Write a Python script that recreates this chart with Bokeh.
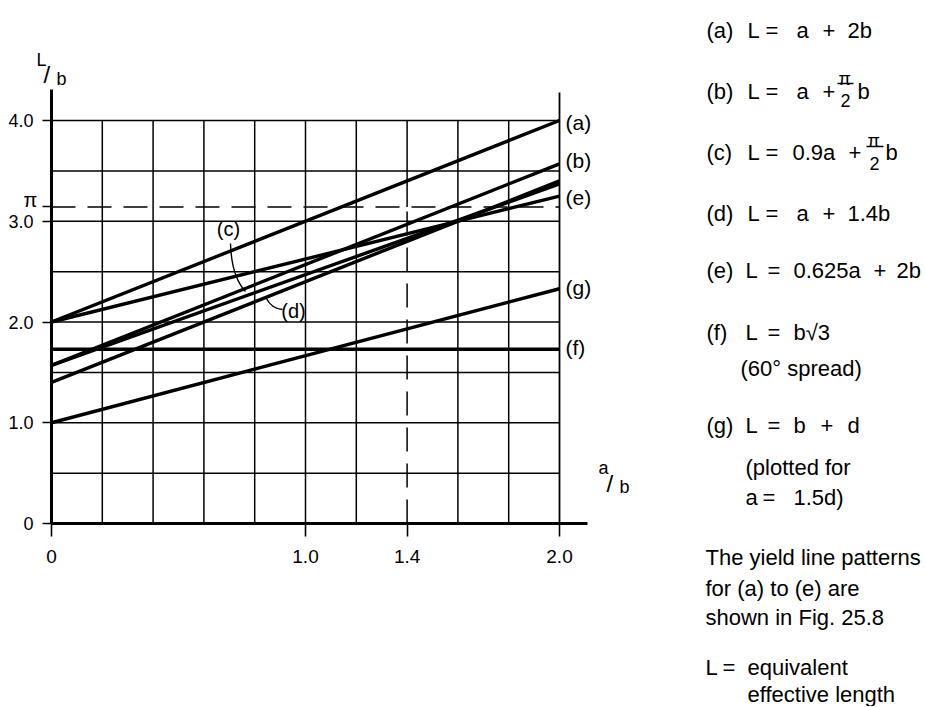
import math
from bokeh.plotting import figure
from bokeh.models import Range1d, FixedTicker, Label
from bokeh.embed import file_html
from bokeh.resources import INLINE

# ---------------- data ----------------
x_ends = [0.0, 2.0]                 # a/b at the two ends of every straight line
line_a = [2.0, 4.0]                 # (a) L = a + 2b
line_b = [1.57, 3.57]               # (b) L = a + pi/2 b
line_c = [1.57, 3.37]               # (c) L = 0.9a + pi/2 b
line_d = [1.4, 3.4]                 # (d) L = a + 1.4b
line_e = [2.0, 3.25]                # (e) L = 0.625a + 2b
line_f = [1.73, 1.73]               # (f) L = b*sqrt(3)
line_g = [1.0, 2.33]                # (g) L = b + d
series_names = ["(a)", "(b)", "(c)", "(d)", "(e)", "(f)", "(g)"]
series_vals = [line_a, line_b, line_c, line_d, line_e, line_f, line_g]

pi_level = 3.1416
ab_marker = 1.4

x_ticks = [0, 1.0, 1.4, 2.0]
x_tick_labels = ["0", "1.0", "1.4", "2.0"]
y_ticks = [0, 1.0, 2.0, 3.0, 4.0]
y_tick_labels = ["0", "1.0", "2.0", "3.0", "4.0"]
x_grid = [0.2, 0.4, 0.6, 0.8, 1.0, 1.2, 1.4, 1.6, 1.8]
y_grid = [0.5, 1.0, 1.5, 2.0, 2.5, 3.0, 3.5, 4.0]
x_max, y_max = 2.0, 4.0

FONT = "Liberation Sans"

# ---------------- layout helpers (page px -> data) ----------------
W, H = 924, 706
X0_PX, X_PER = 51.0, 254.0      # page x of a/b = 0, pixels per unit
Y0_PX, Y_PER = 523.0, 100.75    # page y of L/b = 0, pixels per unit
def dx(px):
    return (px - X0_PX) / X_PER
def dy(py):
    return (Y0_PX - py) / Y_PER

p = figure(width=W, height=H, x_range=Range1d(dx(0), dx(W)), y_range=Range1d(dy(H), dy(0)),
           output_backend="svg", toolbar_location=None,
           min_border=0, min_border_left=0, min_border_right=0,
           min_border_top=0, min_border_bottom=0)
p.outline_line_color = None
p.grid.visible = False
p.background_fill_color = "white"
p.border_fill_color = "white"

# axes, fixed at the data origin and limited in extent
p.xaxis.fixed_location = 0
p.yaxis.fixed_location = 0
p.xaxis.bounds = (0, dx(587))
p.yaxis.bounds = (0, dy(89))
p.xaxis.ticker = FixedTicker(ticks=x_ticks)
p.xaxis.major_label_overrides = {t: l for t, l in zip(x_ticks, x_tick_labels)}
p.yaxis.ticker = FixedTicker(ticks=y_ticks + [math.pi])
ov = {t: l for t, l in zip(y_ticks, y_tick_labels)}
ov[math.pi] = ""
p.yaxis.major_label_overrides = ov
for ax in (p.xaxis, p.yaxis):
    ax.axis_line_width = 3
    ax.axis_line_color = "black"
    ax.major_tick_in = 0
    ax.major_tick_line_width = 1.6
    ax.major_tick_line_color = "black"
    ax.minor_tick_line_color = None
    ax.major_label_text_font = FONT
    ax.major_label_text_font_size = "19px"
    ax.major_label_text_color = "black"
p.xaxis.major_tick_out = 13
p.xaxis.major_label_standoff = 13
p.yaxis.major_tick_out = 9
p.yaxis.major_label_standoff = 9
p.yaxis.major_label_text_font_size = "18px"

# grid (the a/b = 1.4 grid line is replaced by the dashed marker below pi)
p.segment(x0=[0.0] * len(y_grid), y0=y_grid, x1=[x_max] * len(y_grid), y1=y_grid,
          line_color="black", line_width=1.5)
grid_y0 = [pi_level if abs(g - ab_marker) < 1e-9 else 0.0 for g in x_grid]
p.segment(x0=x_grid, y0=grid_y0, x1=x_grid, y1=[y_max] * len(x_grid),
          line_color="black", line_width=1.5)
# right border at a/b = 2.0
p.segment(x0=[x_max], y0=[0.0], x1=[x_max], y1=[dy(92)], line_color="black", line_width=1.8)

# dashed references
p.line([0.0, x_max], [pi_level, pi_level], line_color="black", line_width=1.5, line_dash="24 12")
p.line([ab_marker, ab_marker], [0.0, pi_level], line_color="black", line_width=1.5, line_dash="24 12")

# data lines
for vals in series_vals:
    p.line(x_ends, vals, line_color="black", line_width=3.4)

# leaders for (c) and (d)
p.quadratic(x0=[dx(230), dx(282)], y0=[dy(243), dy(309)],
            x1=[dx(245), dx(266)], y1=[dy(291), dy(298)],
            cx=[dx(231), dx(271)], cy=[dy(276), dy(308)],
            line_color="black", line_width=1.4)

def lab(text, px, py, size="22px", align="left", baseline="alphabetic"):
    p.add_layout(Label(x=dx(px), y=dy(py), x_units="data", y_units="data", text=text,
                       text_font=FONT, text_font_size=size, text_color="black",
                       text_align=align, text_baseline=baseline))

# labels at the right end of the lines
right_pos = {"(a)": 122, "(b)": 160, "(e)": 197, "(g)": 287, "(f)": 347}
for name, py in right_pos.items():
    lab(name, 565, py, size="21px", baseline="middle")
lab("(c)", 228, 228, size="20px", align="center", baseline="middle")
lab("(d)", 293, 310, size="20px", align="center", baseline="middle")

# pi tick label
lab("\u03c0", 30, 199, size="20px", align="center", baseline="middle")

# axis titles L/b and a/b
lab("L", 36, 59, size="18px")
lab("/", 43, 74, size="24px")
lab("b", 56, 78, size="18px")
lab("a", 598, 467, size="18px")
lab("/", 606, 483, size="24px")
lab("b", 619, 486, size="18px")

# legend text block
legend_rows = [
    ([("(a)", 706), ("L", 747), ("=", 765), ("a", 796), ("+", 822), ("2b", 847)], 30),
    ([("(b)", 706), ("L", 747), ("=", 765), ("a", 796), ("+", 822), ("b", 857)], 91),
    ([("(c)", 706), ("L", 747), ("=", 765), ("0.9a", 792), ("+", 848), ("b", 885)], 152),
    ([("(d)", 706), ("L", 747), ("=", 765), ("a", 796), ("+", 822), ("1.4b", 847)], 213),
    ([("(e)", 706), ("L", 745), ("=", 767), ("0.625a", 793), ("+", 873), ("2b", 896)], 270),
    ([("(f)", 706), ("L", 745), ("=", 767), ("b\u221a3", 793)], 332),
    ([("(60\u00b0 spread)", 740)], 368),
    ([("(g)", 706), ("L", 745), ("=", 767), ("b", 793), ("+", 820), ("d", 847)], 425),
    ([("(plotted for", 745)], 467),
    ([("a", 745), ("=", 762), ("1.5d)", 793)], 497),
    ([("The yield line patterns", 705)], 557),
    ([("for (a) to (e) are", 705)], 588),
    ([("shown in Fig. 25.8", 705)], 617),
    ([("L", 705), ("=", 722), ("equivalent", 747)], 667),
    ([("effective length", 747)], 694),
]
for tokens, base in legend_rows:
    for text, px in tokens:
        lab(text, px, base, size="22px")

# stacked pi/2 fractions
frac_pos = [(838, 78, 837, 853, 83, 840, 100), (867, 140, 866, 883, 146, 869, 163)]
for (pix, pib, bx0, bx1, by, twox, twob) in frac_pos:
    lab("\u03c0", pix, pib, size="18px")
    lab("2", twox, twob, size="18px")
p.segment(x0=[dx(f[2]) for f in frac_pos], y0=[dy(f[4]) for f in frac_pos],
          x1=[dx(f[3]) for f in frac_pos], y1=[dy(f[4]) for f in frac_pos],
          line_color="black", line_width=1.6)

open("out.html", "w").write(file_html(p, INLINE))
